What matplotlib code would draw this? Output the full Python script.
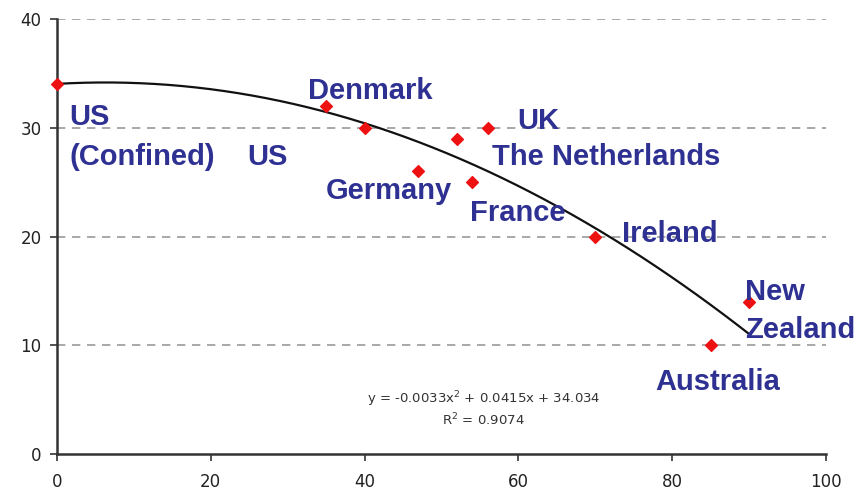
import numpy as np
import matplotlib
matplotlib.use("Agg")
import matplotlib.pyplot as plt

countries = ["US (Confined)", "Denmark", "US", "Germany", "The Netherlands", "UK",
             "France", "Ireland", "New Zealand", "Australia"]
x_vals = [0, 35, 40, 47, 52, 56, 54, 70, 90, 85]
y_vals = [34, 32, 30, 26, 29, 30, 25, 20, 14, 10]
trend_coef = [-0.0033, 0.0415, 34.034]
trend_range = [0, 90]
x_ticks = [0, 20, 40, 60, 80, 100]
y_ticks = [0, 10, 20, 30, 40]

# label text and placement (data coords, horizontal alignment)
labels = [
    ("US", 1.6, 31.0, "left"),
    ("(Confined)", 1.6, 27.3, "left"),
    ("US", 24.8, 27.3, "left"),
    ("Denmark", 32.6, 33.4, "left"),
    ("UK", 59.9, 30.6, "left"),
    ("The Netherlands", 56.6, 27.3, "left"),
    ("Germany", 35.0, 24.2, "left"),
    ("France", 53.7, 22.2, "left"),
    ("Ireland", 73.5, 20.2, "left"),
    ("New", 89.5, 14.9, "left"),
    ("Zealand", 89.5, 11.4, "left"),
    ("Australia", 77.8, 6.6, "left"),
]

fig = plt.figure(figsize=(8.61, 4.95), dpi=100)
ax = fig.add_axes([0.0662, 0.0828, 0.8931, 0.8788])
ax.set_xlim(0, 100)
ax.set_ylim(0, 40)

for yv in y_ticks[1:]:
    ax.axhline(yv, color="#9a9a9a", lw=1.2, ls=(0, (5, 4)), zorder=1)

xs = np.linspace(trend_range[0], trend_range[1], 200)
ax.plot(xs, np.polyval(trend_coef, xs), color="#111111", lw=1.6, zorder=2)

ax.scatter(x_vals, y_vals, marker="D", s=36, color="#ee1111", zorder=3, clip_on=False)

navy = "#2e3192"
for txt, lx, ly, ha in labels:
    ax.text(lx, ly, txt, ha=ha, va="center", fontsize=21, fontweight="bold",
            color=navy, family="Liberation Sans", zorder=4)

ax.text(55.5, 5.0, "y = -0.0033x$^2$ + 0.0415x + 34.034", ha="center", va="center",
        fontsize=9.5, color="#333333", family="DejaVu Sans")
ax.text(55.5, 3.1, "R$^2$ = 0.9074", ha="center", va="center",
        fontsize=9.5, color="#333333", family="DejaVu Sans")

for s in ["top", "right"]:
    ax.spines[s].set_visible(False)
for s in ["left", "bottom"]:
    ax.spines[s].set_color("#333333")
    ax.spines[s].set_linewidth(1.8)

ax.set_xticks(x_ticks)
ax.set_yticks(y_ticks)
ax.tick_params(axis="both", direction="out", length=5, width=1.2, color="#333333",
               labelsize=12, labelcolor="#222222")
ax.tick_params(axis="x", pad=9)
ax.tick_params(axis="y", pad=6)
for lab in ax.get_xticklabels() + ax.get_yticklabels():
    lab.set_family("Liberation Sans Narrow")

fig.savefig("out.png", dpi=100)
